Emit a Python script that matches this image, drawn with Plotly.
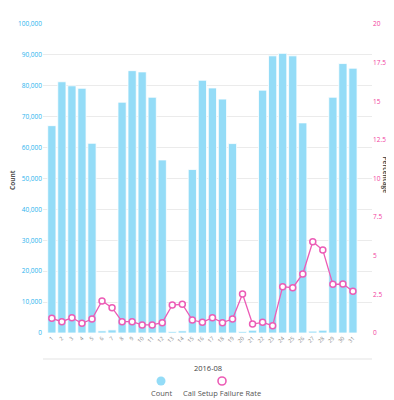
import plotly.graph_objects as go

days = [str(d) for d in range(1, 32)]
counts = [67100, 81300, 80000, 79200, 61400, 700, 1000, 74700, 84900, 84500,
          76300, 56000, 500, 700, 52900, 81800, 79300, 75700, 61300, 500,
          900, 78600, 89700, 90500, 89700, 68000, 600, 900, 76300, 87200, 85700]
rate = [0.95, 0.73, 0.99, 0.63, 0.90, 2.07, 1.64, 0.73, 0.73, 0.52,
        0.52, 0.67, 1.81, 1.86, 0.84, 0.69, 0.99, 0.67, 0.90, 2.52,
        0.58, 0.69, 0.47, 3.00, 2.93, 3.82, 5.91, 5.37, 3.15, 3.17, 2.70]
left_ticks = [0, 10000, 20000, 30000, 40000, 50000, 60000, 70000, 80000, 90000, 100000]
right_ticks = [0, 2.5, 5, 7.5, 10, 12.5, 15, 17.5, 20]
right_labels = ["0", "2.5", "5", "7.5", "10", "12.5", "15", "17.5", "20"]

BLUE = "#94dcf7"
BLUE_TXT = "#2bb3ee"
PINK = "#ec5cb6"
PINK_TXT = "#f23d9e"
FONT = "Open Sans"

# page body has an 8px margin; compensate so the plot lands where the reference has it
OFF = 8
PL, PT, PW, PH = 43, 24, 329, 309  # plot area in screen pixels


def px(X):
    return (X - PL) / PW


def py(Y):
    return (PT + PH - Y) / PH


fig = go.Figure()
fig.add_trace(go.Bar(x=days, y=counts, name="Count",
                     marker=dict(color=BLUE, line=dict(color="white", width=0.8)),
                     showlegend=False))
fig.add_trace(go.Scatter(x=days, y=rate, name="Call Setup Failure Rate", yaxis="y2",
                         mode="lines+markers",
                         line=dict(color=PINK, width=1.3),
                         marker=dict(size=6, color="white", line=dict(color=PINK, width=1.5)),
                         showlegend=False))

fig.update_layout(
    width=394 - OFF, height=400 - OFF,
    margin=dict(l=PL - OFF, r=394 - PL - PW, t=PT - OFF, b=400 - PT - PH),
    paper_bgcolor="white", plot_bgcolor="white",
    font=dict(family=FONT, size=7, color="#555"),
    bargap=0.18,
    xaxis=dict(type="category", range=[-0.88, 31.9], tickangle=-45,
               tickfont=dict(size=5.5, color="#888"), showgrid=False,
               showline=False, ticks="", zeroline=False, automargin=False),
    yaxis=dict(range=[0, 100000], tickvals=left_ticks, tickformat=",",
               tickfont=dict(size=6.5, color=BLUE_TXT), gridcolor="#ebebeb",
               gridwidth=1, zeroline=False, showline=False, ticks="", automargin=False),
    yaxis2=dict(range=[0, 20], tickvals=right_ticks, ticktext=right_labels,
                overlaying="y", side="right", showgrid=False, zeroline=False,
                tickfont=dict(size=6.5, color=PINK_TXT), ticks="", automargin=False),
)

fig.add_shape(type="line", xref="paper", yref="paper", x0=0, x1=1, y0=py(359), y1=py(359),
              line=dict(color="#e3e3e3", width=1))
fig.add_annotation(text="2016-08", xref="paper", yref="paper", x=0.5, y=py(368),
                   showarrow=False, font=dict(size=7.5, color="#444"), yanchor="middle")
fig.add_annotation(text="<b>Count</b>", xref="paper", yref="paper", x=px(12), y=py(180),
                   textangle=-90, showarrow=False, font=dict(size=6.5, color="#555"),
                   xanchor="center", yanchor="middle")
fig.add_annotation(text="<b>Percentage</b>", xref="paper", yref="paper", x=px(392), y=py(175),
                   textangle=90, showarrow=False, font=dict(size=6.5, color="#555"),
                   xanchor="right", yanchor="middle")

# legend
fig.add_shape(type="circle", xref="paper", yref="paper", xsizemode="pixel", ysizemode="pixel",
              xanchor=px(161), yanchor=py(381), x0=-4.5, x1=4.5, y0=-4.5, y1=4.5,
              fillcolor=BLUE, line=dict(width=0))
fig.add_shape(type="circle", xref="paper", yref="paper", xsizemode="pixel", ysizemode="pixel",
              xanchor=px(222), yanchor=py(381), x0=-4, x1=4, y0=-4, y1=4,
              fillcolor="white", line=dict(color=PINK, width=1.6))
fig.add_annotation(text="Count", xref="paper", yref="paper", x=px(161), y=py(393),
                   showarrow=False, font=dict(size=7.5, color="#555"), yanchor="middle")
fig.add_annotation(text="Call Setup Failure Rate", xref="paper", yref="paper",
                   x=px(222), y=py(393), showarrow=False,
                   font=dict(size=7.5, color="#555"), yanchor="middle")

fig.write_html("out.html")
